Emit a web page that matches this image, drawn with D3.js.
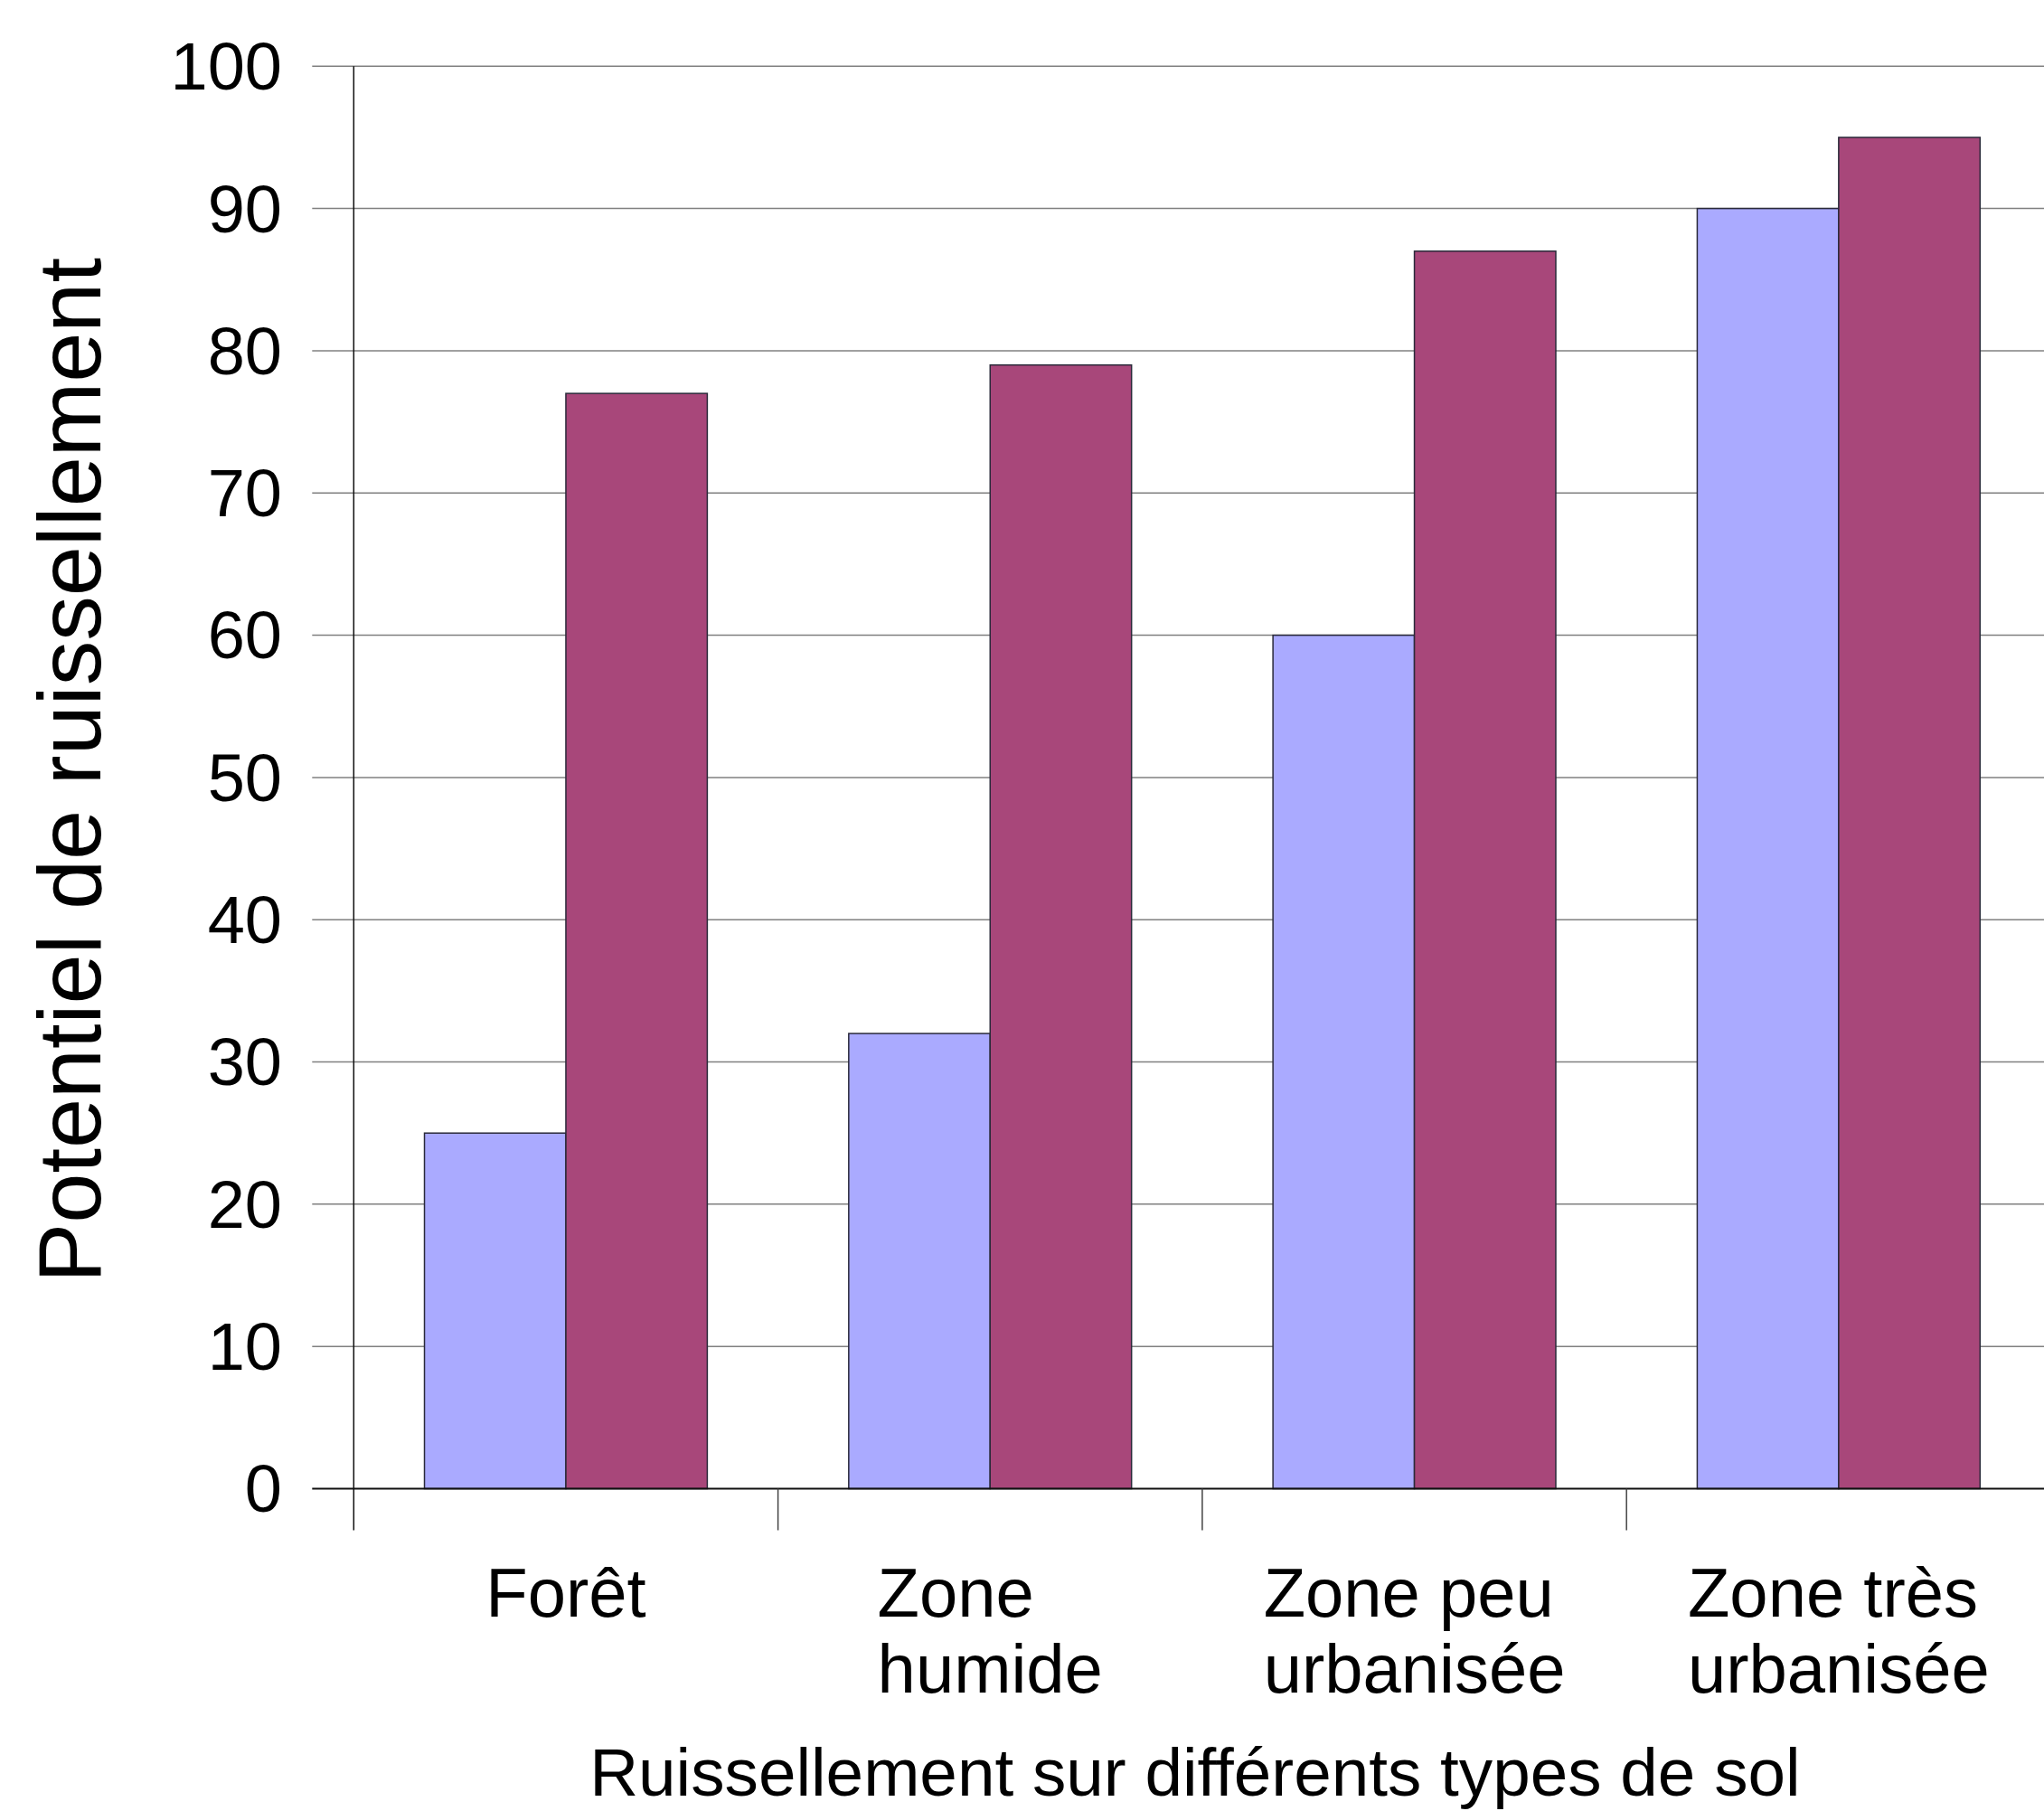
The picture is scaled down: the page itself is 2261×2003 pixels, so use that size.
<!DOCTYPE html>
<html><head><meta charset="utf-8">
<script src="https://cdn.jsdelivr.net/npm/d3@7"></script>
<style>html,body{margin:0;padding:0;background:#fff;overflow:hidden}</style>
</head><body>
<svg id="c" width="2261" height="2003"></svg>
<script>
const categories = [["Forêt"], ["Zone", "humide"], ["Zone peu", "urbanisée"], ["Zone très", "urbanisée"]];
const categoryKeys = ["Forêt", "Zone humide", "Zone peu urbanisée", "Zone très urbanisée"];
const seriesA = [25, 32, 60, 90];
const seriesB = [77, 79, 87, 95];
const yTicks = [0, 10, 20, 30, 40, 50, 60, 70, 80, 90, 100];
const xTitle = "Ruissellement sur différents types de sol";
const yTitle = "Potentiel de ruissellement";

(function () {
const colors = ["#aaaaff", "#a8477a"];
const font = "'Liberation Sans', Arial, sans-serif";
const svg = d3.select("#c");
const pLeft = 391.3, pRight = 2268.5, pTop = 73.3, pBottom = 1646.5;

const x = d3.scaleBand().domain(categoryKeys).range([pLeft, pRight]).padding(0);
const x1 = d3.scaleBand().domain([0, 1]).range([0, x.bandwidth()]).paddingInner(0).paddingOuter(0.5);
const y = d3.scaleLinear().domain([0, 100]).range([pBottom, pTop]);

// gridlines
svg.append("g").selectAll("line").data(yTicks.filter(d => d > 0)).join("line")
  .attr("x1", pLeft - 46).attr("x2", 2261)
  .attr("y1", d => y(d)).attr("y2", d => y(d))
  .attr("stroke", "#808080").attr("stroke-width", 1.5);

// bars
const data = categoryKeys.map((k, i) => ({k, v: [seriesA[i], seriesB[i]]}));
const grp = svg.selectAll("g.cat").data(data).join("g").attr("class", "cat")
  .attr("transform", d => `translate(${x(d.k)},0)`);
grp.selectAll("rect").data(d => d.v.map((v, j) => ({v, j}))).join("rect")
  .attr("x", d => x1(d.j)).attr("width", x1.bandwidth())
  .attr("y", d => y(d.v)).attr("height", d => y(0) - y(d.v))
  .attr("fill", d => colors[d.j]).attr("stroke", "#2a2a3a").attr("stroke-width", 1.5);

// baseline
svg.append("line").attr("x1", pLeft - 46).attr("x2", 2261)
  .attr("y1", y(0)).attr("y2", y(0)).attr("stroke", "#111").attr("stroke-width", 2);
// left axis
svg.append("line").attr("x1", pLeft).attr("x2", pLeft)
  .attr("y1", pTop).attr("y2", pBottom + 46).attr("stroke", "#111").attr("stroke-width", 1.5);
// category ticks
svg.append("g").selectAll("line").data(categoryKeys.slice(1)).join("line")
  .attr("x1", d => x(d)).attr("x2", d => x(d))
  .attr("y1", pBottom).attr("y2", pBottom + 46)
  .attr("stroke", "#444").attr("stroke-width", 1.5);

// y tick labels
svg.append("g").selectAll("text").data(yTicks).join("text")
  .attr("x", 312).attr("y", d => y(d)).attr("dy", "0.35em")
  .attr("text-anchor", "end").attr("font-family", font).attr("font-size", 74)
  .attr("fill", "#000").text(d => d);

// category labels (left-aligned lines, block centred under each band)
categoryKeys.forEach((k, i) => {
  const t = svg.append("text").attr("font-family", font).attr("font-size", 76).attr("fill", "#000");
  categories[i].forEach((line, li) => {
    t.append("tspan").attr("x", 0).attr("y", 1788 + li * 84.3).text(line);
  });
  const w = t.node().getBBox().width;
  t.attr("transform", `translate(${x(k) + x.bandwidth() / 2 - w / 2},0)`);
});

// axis titles
svg.append("text").attr("x", (pLeft + pRight) / 2 - 8).attr("y", 1986)
  .attr("text-anchor", "middle").attr("font-family", font).attr("font-size", 74.7)
  .attr("fill", "#000").text(xTitle);
svg.append("text").attr("transform", `translate(111,${(pTop + pBottom) / 2 - 8}) rotate(-90)`)
  .attr("text-anchor", "middle").attr("font-family", font).attr("font-size", 99)
  .attr("fill", "#000").text(yTitle);
})();
</script>
</body></html>
